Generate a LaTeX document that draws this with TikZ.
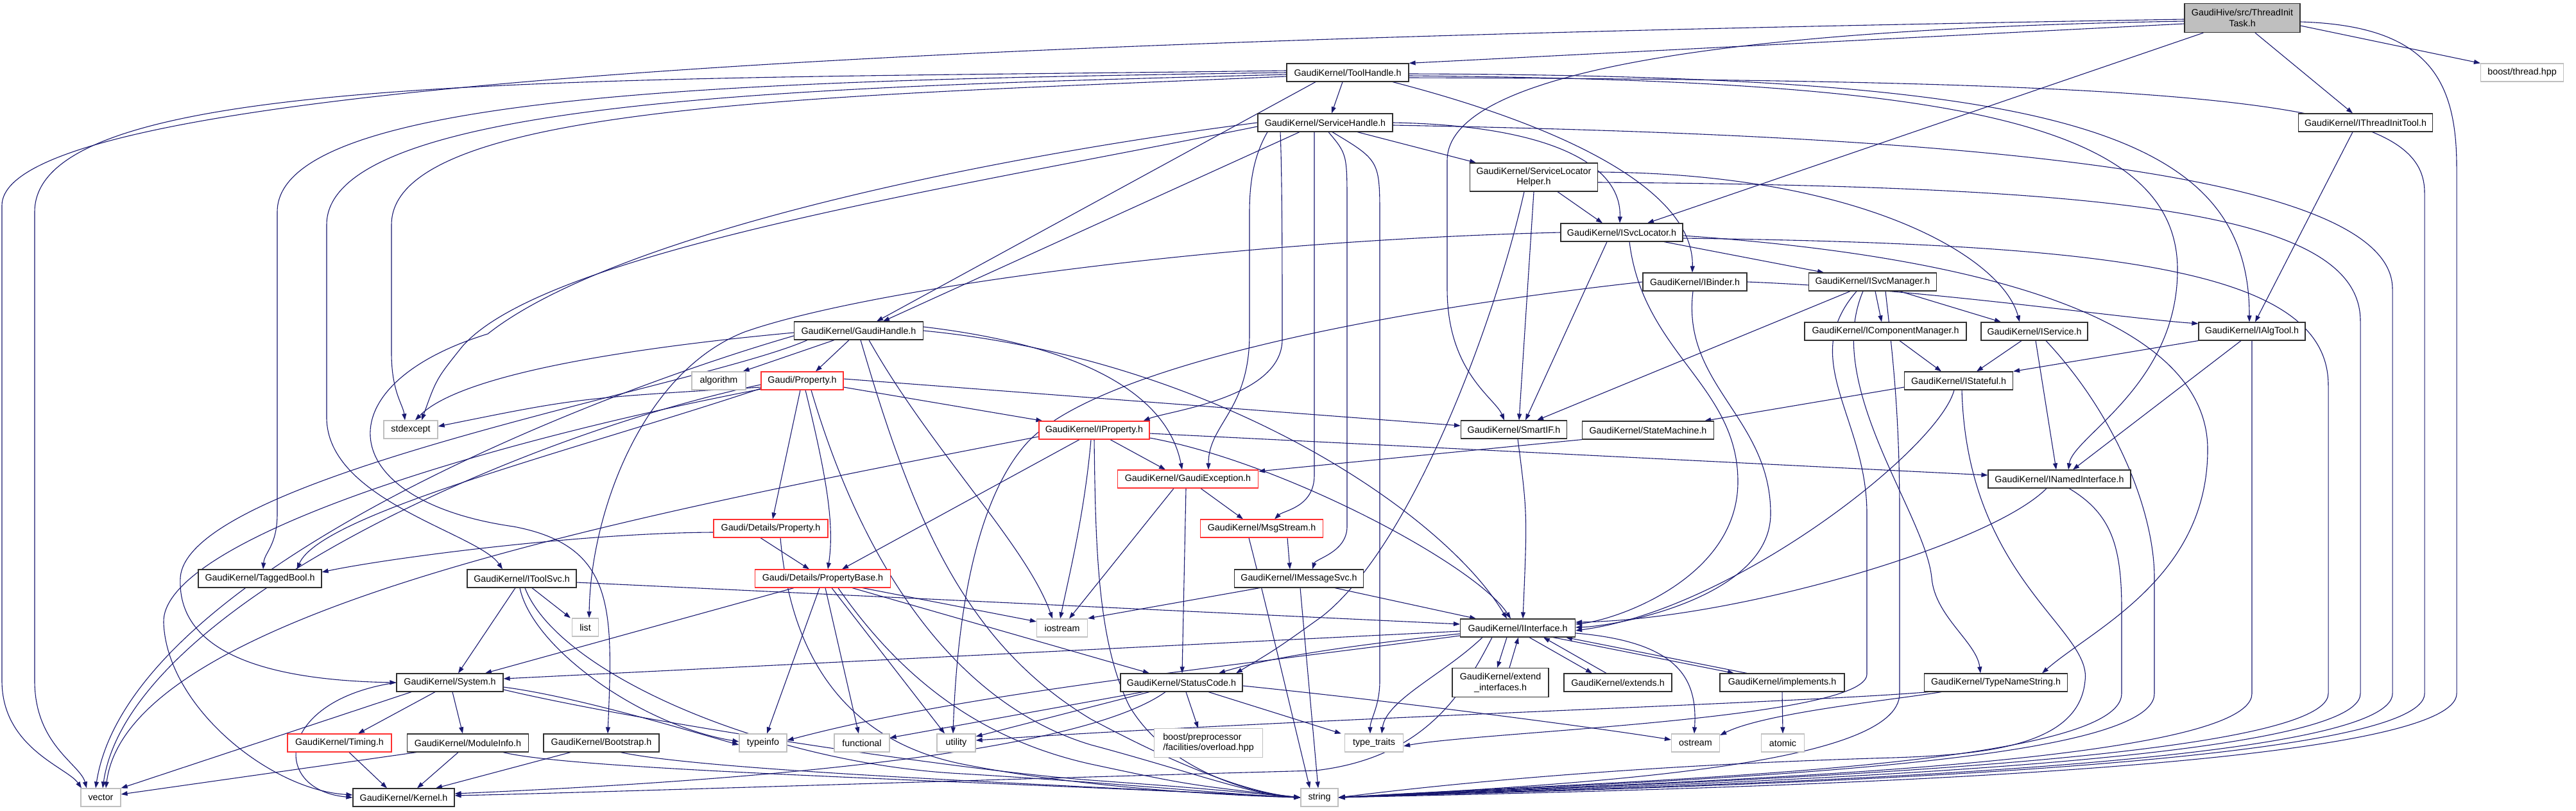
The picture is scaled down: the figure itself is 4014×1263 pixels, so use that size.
\documentclass[tikz,border=0pt]{standalone}
\usepackage{fontspec}
\setmainfont{Liberation Sans}
\usetikzlibrary{arrows.meta}
\definecolor{edgeblue}{HTML}{191970}
\definecolor{extgray}{HTML}{BFBFBF}
\definecolor{truncred}{HTML}{FF3030}
\definecolor{nodeblack}{HTML}{303030}
\definecolor{rootfill}{HTML}{BFBFBF}
\pgfdeclarelayer{edgelayer}
\pgfsetlayers{edgelayer,main}
\begin{document}
\begin{tikzpicture}[x=1pt,y=-1pt,
  basebox/.style={rectangle, line width=1.2pt, fill=white, inner sep=0pt, minimum height=28pt, align=center, font=\fontsize{14.3}{16.5}\selectfont},
  hnode/.style={basebox, draw=nodeblack},
  xnode/.style={basebox, draw=extgray},
  rnode/.style={basebox, draw=truncred},
  dep/.style={draw=edgeblue, line width=1.1pt, -{Triangle[length=10pt,width=7pt]}}]
\useasboundingbox (0,0) rectangle (4014,1263);

\node[hnode, minimum width=180pt, minimum height=45pt, fill=rootfill] (TIT) at (3494,28) {GaudiHive/src/ThreadInit\\Task.h};
\node[xnode, minimum width=129pt] (boost) at (3930,113) {boost/thread.hpp};
\node[hnode, minimum width=209pt] (ITIT) at (3686,191) {GaudiKernel/IThreadInitTool.h};
\node[hnode, minimum width=190pt] (TH) at (2100,113) {GaudiKernel/ToolHandle.h};
\node[hnode, minimum width=210pt] (SH) at (2065,191) {GaudiKernel/ServiceHandle.h};
\node[hnode, minimum width=199pt, minimum height=44pt] (SLH) at (2390,276) {GaudiKernel/ServiceLocator\\Helper.h};
\node[hnode, minimum width=190pt] (ISL) at (2527,362) {GaudiKernel/ISvcLocator.h};
\node[hnode, minimum width=162pt] (IB) at (2641,439) {GaudiKernel/IBinder.h};
\node[hnode, minimum width=199pt] (ISM) at (2918,439) {GaudiKernel/ISvcManager.h};
\node[hnode, minimum width=252pt] (ICM) at (2938,516) {GaudiKernel/IComponentManager.h};
\node[hnode, minimum width=166pt] (IS) at (3170,516) {GaudiKernel/IService.h};
\node[hnode, minimum width=166pt] (IAT) at (3509,516) {GaudiKernel/IAlgTool.h};
\node[hnode, minimum width=169pt] (IST) at (3052,593) {GaudiKernel/IStateful.h};
\node[hnode, minimum width=165pt] (SIF) at (2359,669) {GaudiKernel/SmartIF.h};
\node[hnode, minimum width=205pt] (SM) at (2568,670) {GaudiKernel/StateMachine.h};
\node[hnode, minimum width=222pt] (INI) at (3209,746) {GaudiKernel/INamedInterface.h};
\node[hnode, minimum width=201pt] (GH) at (1338,515) {GaudiKernel/GaudiHandle.h};
\node[xnode, minimum width=84pt] (alg) at (1120,593) {algorithm};
\node[rnode, minimum width=128pt] (GP) at (1250,593) {Gaudi/Property.h};
\node[rnode, minimum width=172pt] (IP) at (1705,670) {GaudiKernel/IProperty.h};
\node[rnode, minimum width=219pt] (GE) at (1851,746) {GaudiKernel/GaudiException.h};
\node[rnode, minimum width=178pt] (GDP) at (1201,823) {Gaudi/Details/Property.h};
\node[rnode, minimum width=191pt] (MS) at (1966,823) {GaudiKernel/MsgStream.h};
\node[xnode, minimum width=84pt] (stdexc) at (640,669) {stdexcept};
\node[hnode, minimum width=192pt] (TB) at (405,901) {GaudiKernel/TaggedBool.h};
\node[hnode, minimum width=170pt] (ITS) at (813,901) {GaudiKernel/IToolSvc.h};
\node[xnode, minimum width=41pt] (lst) at (912,977) {list};
\node[hnode, minimum width=166pt] (Sys) at (701,1063) {GaudiKernel/System.h};
\node[rnode, minimum width=162pt] (Tim) at (529,1157) {GaudiKernel/Timing.h};
\node[hnode, minimum width=189pt] (MI) at (729,1157) {GaudiKernel/ModuleInfo.h};
\node[hnode, minimum width=180pt] (BS) at (937,1157) {GaudiKernel/Bootstrap.h};
\node[xnode, minimum width=62pt] (vec) at (157,1242) {vector};
\node[hnode, minimum width=158pt] (Ker) at (629,1242) {GaudiKernel/Kernel.h};
\node[rnode, minimum width=211pt] (PB) at (1282,901) {Gaudi/Details/PropertyBase.h};
\node[xnode, minimum width=79pt] (ios) at (1655,978) {iostream};
\node[hnode, minimum width=190pt] (SC) at (1841,1063) {GaudiKernel/StatusCode.h};
\node[xnode, minimum width=74pt] (tinfo) at (1189,1157) {typeinfo};
\node[xnode, minimum width=86pt] (func) at (1343,1157) {functional};
\node[xnode, minimum width=60pt] (util) at (1490,1157) {utility};
\node[xnode, minimum width=169pt, minimum height=45pt, align=left] (bpp) at (1883,1157) {boost/preprocessor\\/facilities/overload.hpp};
\node[hnode, minimum width=201pt] (IMS) at (2024,901) {GaudiKernel/IMessageSvc.h};
\node[hnode, minimum width=179pt] (II) at (2365,978) {GaudiKernel/IInterface.h};
\node[hnode, minimum width=150pt, minimum height=45pt] (EI) at (2338,1063) {GaudiKernel/extend\\\_interfaces.h};
\node[hnode, minimum width=168pt] (ext) at (2521,1063) {GaudiKernel/extends.h};
\node[hnode, minimum width=194pt] (impl) at (2777,1063) {GaudiKernel/implements.h};
\node[xnode, minimum width=91pt] (tt) at (2141,1157) {type\_traits};
\node[xnode, minimum width=75pt] (ost) at (2642,1157) {ostream};
\node[xnode, minimum width=67pt] (atom) at (2778,1157) {atomic};
\node[xnode, minimum width=58pt] (str) at (2056,1242) {string};
\node[hnode, minimum width=223pt] (TNS) at (3110,1063) {GaudiKernel/TypeNameString.h};

\begin{pgfonlayer}{edgelayer}
% ThreadInitTask
\draw[dep] ([yshift=-9]TIT.west) -- (TH.north east);
\draw[dep] ([xshift=30]TIT.south west) -- ([xshift=40]ISL.north);
\draw[dep] ([xshift=20]TIT.south) -- ([xshift=-20]ITIT.north);
\draw[dep] ([yshift=-12]TIT.east) -- (boost.north west);
\draw[dep] ([yshift=-5]TIT.west) .. controls (2700,45) and (2255,110) .. (2255,250) -- (2255,450) .. controls (2255,580) and (2330,620) .. ([xshift=-15]SIF.north);
\draw[dep] ([yshift=-2]TIT.west) .. controls (1600,60) and (3,120) .. (3,320) -- (3,1060) .. controls (3,1165) and (105,1195) .. ([xshift=-30]vec.north);
\draw[dep] ([yshift=-6]TIT.east) .. controls (3780,40) and (3828,120) .. (3828,260) -- (3828,1080) .. controls (3828,1210) and (2500,1232) .. (str.east);
% IThreadInitTool
\draw[dep] ([xshift=-20]ITIT.south) -- ([xshift=5]IAT.north);
% ToolHandle
\draw[dep] ([xshift=-50]TH.south) -- ([xshift=28]GH.north);
\draw[dep] ([xshift=-8]TH.south) -- ([xshift=10]SH.north);
\draw[dep] ([xshift=70]TH.south) .. controls (2450,200) and (2640,300) .. ([xshift=-4]IB.north);
\draw[dep] ([yshift=-2]TH.east) .. controls (3200,118) and (3505,200) .. ([xshift=-4]IAT.north);
\draw[dep] ([yshift=-5]TH.east) .. controls (3000,125) and (3393,180) .. (3393,420) .. controls (3393,600) and (3230,680) .. ([xshift=14]INI.north);
\draw[dep] ([yshift=-8]TH.east) .. controls (3500,125) and (3778,160) .. (3778,300) -- (3778,1080) .. controls (3778,1205) and (2500,1228) .. (str.east);
\draw[dep] ([yshift=-3]TH.west) .. controls (1300,135) and (509,150) .. (509,350) -- (509,650) .. controls (509,780) and (745,830) .. ([xshift=-30]ITS.north);
\draw[dep] (TH.west) .. controls (1200,125) and (432,140) .. (432,330) -- (432,800) .. controls (432,850) and (412,860) .. ([xshift=5]TB.north);
\draw[dep] ([yshift=-6]TH.west) .. controls (1300,150) and (610,160) .. (610,350) -- (610,550) .. controls (610,610) and (628,630) .. ([xshift=-9]stdexc.north);
\draw[dep] ([yshift=3]TH.west) .. controls (900,125) and (54,110) .. (54,330) -- (54,1060) .. controls (54,1160) and (125,1190) .. ([xshift=-22]vec.north);
% ServiceHandle
\draw[dep] ([xshift=-40]SH.south) -- ([xshift=38]GH.north);
\draw[dep] ([xshift=50]SH.south) -- ([xshift=-90]SLH.north);
\draw[dep] (SH.east) .. controls (2400,195) and (2527,250) .. ([xshift=-3]ISL.north);
\draw[dep] ([yshift=-4]SH.east) .. controls (3000,210) and (3728,260) .. (3728,450) -- (3728,1080) .. controls (3728,1205) and (2500,1226) .. (str.east);
\draw[dep] ([xshift=-90]SH.south) .. controls (1955,240) and (1947,280) .. (1947,330) -- (1947,520) .. controls (1947,640) and (1883,660) .. ([xshift=32]GE.north);
\draw[dep] ([xshift=-70]SH.south) .. controls (1998,280) and (1998,420) .. (1998,530) .. controls (1996,620) and (1820,640) .. ([xshift=-10]IP.north east);
\draw[dep] ([xshift=-17]SH.south) .. controls (2048,240) .. (2048,300) -- (2048,740) .. controls (2048,790) and (2000,795) .. ([xshift=20]MS.north);
\draw[dep] ([xshift=5]SH.south) .. controls (2099,240) .. (2099,320) -- (2099,820) .. controls (2099,860) and (2050,870) .. ([xshift=21]IMS.north);
\draw[dep] ([xshift=11]SH.south) .. controls (2150,250) .. (2150,340) -- (2150,1060) .. controls (2150,1100) and (2135,1120) .. ([xshift=-6]tt.north);
\draw[dep] (SH.west) .. controls (1500,250) and (950,370) .. (760,520) .. controls (500,600) and (520,780) .. (800,820) .. controls (960,850) and (955,950) .. ([xshift=10]BS.north);
\draw[dep] ([yshift=-6]SH.west) .. controls (1500,290) and (850,390) .. (720,540) .. controls (680,590) .. ([xshift=17]stdexc.north);
% ServiceLocatorHelper
\draw[dep] ([xshift=37]SLH.south) -- ([xshift=-30]ISL.north);
\draw[dep] ([yshift=8]SLH.east) .. controls (2900,270) and (3120,400) .. ([xshift=-23]IS.north);
\draw[dep] (SLH.south) -- ([xshift=8]SIF.north);
\draw[dep] ([xshift=-15]SLH.south) .. controls (2330,500) and (2200,850) .. (2060,960) .. controls (1990,1010) .. ([xshift=85]SC.north);
\draw[dep] ([yshift=-8]SLH.east) .. controls (3300,290) and (3678,330) .. (3678,500) -- (3678,1080) .. controls (3678,1200) and (2500,1224) .. (str.east);
% ISvcLocator
\draw[dep] ([xshift=-23]ISL.south) -- ([xshift=18]SIF.north);
\draw[dep] ([xshift=12]ISL.south) .. controls (2560,550) and (2708,600) .. (2708,750) .. controls (2708,900) and (2520,965) .. ([yshift=6]II.east);
\draw[dep] ([xshift=66]ISL.south) -- ([xshift=-76]ISM.north);
\draw[dep] ([yshift=-5]ISL.east) .. controls (3100,400) and (3440,500) .. (3440,700) .. controls (3440,900) and (3260,980) .. ([xshift=72]TNS.north);
\draw[dep] ([yshift=-9]ISL.east) .. controls (3300,380) and (3628,420) .. (3628,600) -- (3628,1080) .. controls (3628,1195) and (2500,1222) .. (str.east);
\draw[dep] (ISL.west) .. controls (1900,375) and (1350,450) .. (1160,517) .. controls (1000,580) and (920,800) .. ([xshift=6]lst.north);
% IBinder
\draw[dep] (IB.east) .. controls (3000,450) and (3300,495) .. ([yshift=12]IAT.west);
\draw[dep] ([xshift=-3]IB.south) .. controls (2620,600) and (2759,650) .. (2759,800) .. controls (2759,930) and (2520,975) .. ([yshift=1]II.east);
\draw[dep] (IB.west) .. controls (2100,490) and (1700,580) .. (1600,690) .. controls (1510,790) and (1490,1000) .. ([xshift=-5]util.north);
% ISvcManager
\draw[dep] ([xshift=4]ISM.south) -- ([xshift=-6]ICM.north);
\draw[dep] ([xshift=42]ISM.south) -- ([xshift=-52]IS.north);
\draw[dep] ([xshift=-35]ISM.south) -- ([xshift=36]SIF.north);
\draw[dep] ([xshift=-25]ISM.south) .. controls (2800,560) and (2909,650) .. (2909,800) -- (2909,1050) .. controls (2909,1120) and (2300,1140) .. ([yshift=-5]tt.east);
\draw[dep] ([xshift=20]ISM.south) .. controls (2950,560) and (2960,650) .. (2960,800) -- (2960,1080) .. controls (2960,1190) and (2500,1220) .. (str.east);
\draw[dep] ([xshift=-15]ISM.south) .. controls (2840,600) and (3000,800) .. (3010,900) .. controls (3015,960) and (3080,1000) .. ([xshift=-24]TNS.north);
% IComponentManager
\draw[dep] ([xshift=22]ICM.south) -- ([xshift=-27]IST.north);
% IService
\draw[dep] ([xshift=-20]IS.south) -- ([xshift=28]IST.north);
\draw[dep] ([xshift=2]IS.south) -- ([xshift=-5]INI.north);
\draw[dep] ([xshift=18]IS.south) .. controls (3300,650) and (3357,800) .. (3357,900) -- (3357,1080) .. controls (3357,1200) and (2500,1218) .. (str.east);
% IAlgTool
\draw[dep] (IAT.south west) -- (IST.north east);
\draw[dep] ([xshift=-17]IAT.south) -- ([xshift=21]INI.north);
\draw[dep] (IAT.south) -- (3509,1080) .. controls (3509,1200) and (2500,1220) .. (str.east);
% IStateful
\draw[dep] ([xshift=-7]IST.south) .. controls (3020,700) and (2700,950) .. ([yshift=-4]II.east);
\draw[dep] ([xshift=5]IST.south) .. controls (3065,900) and (3260,980) .. (3249,1060) .. controls (3240,1160) and (3100,1175) .. (2950,1180) .. controls (2600,1190) and (2300,1215) .. (str.east);
\draw[dep] ([yshift=-10]IST.west) -- ([xshift=-15]SM.north east);
% StateMachine, SmartIF, INamedInterface
\draw[dep] (SM.south west) -- ([yshift=12]GE.east);
\draw[dep] ([xshift=6]SIF.south) .. controls (2380,800) .. ([xshift=8]II.north);
\draw[dep] ([xshift=-20]INI.south) .. controls (3100,850) and (2700,965) .. ([yshift=9]II.east);
\draw[dep] ([xshift=15]INI.south) .. controls (3290,800) and (3306,850) .. (3306,950) -- (3306,1080) .. controls (3306,1200) and (2500,1216) .. (str.east);
% GaudiHandle
\draw[dep] ([xshift=-38]GH.south) -- ([xshift=-5]alg.north east);
\draw[dep] ([xshift=-15]GH.south) -- ([xshift=21]GP.north);
\draw[dep] ([xshift=16]GH.south) .. controls (1450,700) and (1600,850) .. ([xshift=-15]ios.north);
\draw[dep] ([xshift=3]GH.south) .. controls (1420,800) and (1500,1000) .. (1700,1120) .. controls (1850,1200) and (1950,1235) .. (str.west);
\draw[dep] ([yshift=6]GH.east) .. controls (1700,540) and (1820,620) .. ([xshift=-9]GE.north);
\draw[dep] (GH.east) .. controls (1900,560) and (2250,800) .. ([xshift=-17]II.north);
\draw[dep] ([yshift=-3]GH.west) .. controls (1000,540) and (720,580) .. ([xshift=7]stdexc.north);
\draw[dep] ([yshift=-8]GH.west) .. controls (900,620) and (200,900) .. ([xshift=-8]vec.north);
\draw[dep] ([xshift=-80]GH.south) .. controls (1100,600) and (290,740) .. (281,900) .. controls (275,1030) and (450,1060) .. (Sys.west);
% Gaudi/Property.h
\draw[dep] ([xshift=-3]GP.south) -- ([xshift=3]GDP.north);
\draw[dep] ([xshift=5]GP.south) .. controls (1290,750) and (1300,820) .. ([xshift=8]PB.north);
\draw[dep] ([yshift=-10]GP.east) -- ([xshift=6]IP.north west);
\draw[dep] ([yshift=3]GP.east) -- ([yshift=6]SIF.west);
\draw[dep] ([xshift=14]GP.south) .. controls (1350,900) and (1500,1100) .. (1700,1160) .. controls (1850,1200) and (1950,1238) .. (str.west);
\draw[dep] ([yshift=-10]GP.west) .. controls (900,620) .. ([yshift=5]stdexc.east);
\draw[dep] ([yshift=-12]GP.west) .. controls (900,700) and (500,800) .. ([xshift=-39]TB.north east);
\draw[dep] ([yshift=-6]GP.west) .. controls (800,680) and (200,950) .. ([xshift=3]vec.north);
\draw[dep] ([yshift=-13]GP.west) .. controls (700,700) and (250,850) .. (255,970) .. controls (260,1100) and (420,1230) .. ([yshift=4]Ker.west);
% IProperty
\draw[dep] ([xshift=-23]IP.south) -- ([xshift=30]PB.north);
\draw[dep] ([xshift=25]IP.south) -- ([xshift=-35]GE.north);
\draw[dep] ([yshift=-5]IP.east) -- ([yshift=6]INI.west);
\draw[dep] ([yshift=-12]IP.east) .. controls (2000,720) and (2300,880) .. ([xshift=-11]II.north);
\draw[dep] ([xshift=-5]IP.south) .. controls (1690,800) and (1665,900) .. ([xshift=-3]ios.north);
\draw[dep] (IP.south) .. controls (1707,850) and (1710,1000) .. (1760,1100) .. controls (1820,1200) and (1950,1236) .. (str.west);
\draw[dep] ([yshift=-10]IP.west) .. controls (1000,800) and (200,950) .. ([xshift=8]vec.north);
% GaudiException
\draw[dep] ([xshift=-22]GE.south) -- ([xshift=11]ios.north);
\draw[dep] ([xshift=-3]GE.south) -- ([xshift=1]SC.north);
\draw[dep] ([xshift=20]GE.south) -- ([xshift=-29]MS.north);
% Details/Property
\draw[dep] ([xshift=-16]GDP.south) -- ([xshift=-21]PB.north);
\draw[dep] ([yshift=-6]GDP.west) .. controls (900,830) and (600,870) .. ([yshift=10]TB.east);
\draw[dep] ([xshift=15]GDP.south) .. controls (1230,1000) and (1300,1150) .. (1500,1190) .. controls (1700,1230) and (1950,1240) .. (str.west);
% MsgStream
\draw[dep] ([xshift=40]MS.south) -- ([xshift=-14]IMS.north);
\draw[dep] ([xshift=-20]MS.south) .. controls (1975,950) and (2010,1100) .. ([xshift=-15]str.north);
% IMessageSvc
\draw[dep] ([xshift=-61]IMS.south) -- ([yshift=15]ios.east);
\draw[dep] ([xshift=56]IMS.south) -- ([xshift=-65]II.north);
\draw[dep] ([xshift=2]IMS.south) -- ([xshift=-2]str.north);
% IToolSvc
\draw[dep] ([xshift=-10]ITS.south) -- ([xshift=13]Sys.north);
\draw[dep] ([xshift=16]ITS.south) -- ([xshift=-2]lst.north west);
\draw[dep] ([yshift=-6]ITS.east) -- ([yshift=6]II.west);
\draw[dep] ([xshift=-3]ITS.south) .. controls (830,1010) and (1000,1130) .. ([yshift=2]tinfo.west);
\draw[dep] ([xshift=5]ITS.south) .. controls (870,1050) and (1200,1190) .. (1500,1205) .. controls (1750,1220) and (1950,1240) .. (str.west);
% System
\draw[dep] (Sys.west) .. controls (430,1090) and (420,1230) .. (Ker.west);
\draw[dep] ([xshift=-60]Sys.south) -- (vec.north east);
\draw[dep] ([xshift=-23]Sys.south) -- ([xshift=29]Tim.north);
\draw[dep] ([xshift=4]Sys.south) -- ([xshift=-8]MI.north);
\draw[dep] ([yshift=-7]Sys.east) .. controls (900,1085) and (1080,1140) .. ([yshift=-3]tinfo.west);
\draw[dep] ([yshift=-11]Sys.east) .. controls (1000,1125) and (1500,1200) .. (1700,1215) .. controls (1850,1226) .. (str.west);
% Timing, ModuleInfo, Bootstrap
\draw[dep] ([xshift=15]Tim.south) -- ([xshift=-26]Ker.north);
\draw[dep] ([xshift=-15]MI.south) -- ([xshift=21]Ker.north);
\draw[dep] ([xshift=-80]MI.south) -- ([yshift=5]vec.east);
\draw[dep] ([xshift=55]MI.south) .. controls (900,1200) and (1500,1215) .. (str.west);
\draw[dep] ([xshift=-48]BS.south) -- ([xshift=50]Ker.north);
\draw[dep] ([xshift=30]BS.south) .. controls (1100,1200) and (1600,1220) .. (str.west);
% PropertyBase
\draw[dep] ([xshift=-45]PB.south) -- ([xshift=55]Sys.north);
\draw[dep] ([xshift=-5]PB.south) -- ([xshift=6]tinfo.north);
\draw[dep] ([xshift=4]PB.south) -- ([xshift=-5]func.north);
\draw[dep] ([xshift=14]PB.south) -- ([xshift=-18]util.north);
\draw[dep] ([xshift=24]PB.south) .. controls (1400,1050) and (1520,1150) .. (1700,1190) .. controls (1850,1222) .. (str.west);
\draw[dep] ([xshift=46]PB.south) -- ([xshift=-50]SC.north);
\draw[dep] ([xshift=62]PB.south) -- ([yshift=10]ios.west);
% StatusCode
\draw[dep] ([xshift=-60]SC.south) -- ([yshift=8]func.east);
\draw[dep] ([xshift=-50]SC.south) -- ([yshift=10]util.east);
\draw[dep] ([xshift=-25]SC.south) .. controls (1700,1160) and (1300,1210) .. ([yshift=6]Ker.east);
\draw[dep] ([xshift=7]SC.south) -- ([xshift=-16]bpp.north);
\draw[dep] ([xshift=42]SC.south) -- ([xshift=-5]tt.north west);
\draw[dep] ([yshift=-5]SC.east) .. controls (2200,1095) and (2500,1135) .. ([yshift=5]ost.west);
% IInterface
\draw[dep] ([yshift=-5]II.west) -- ([yshift=6]Sys.east);
\draw[dep] ([yshift=-9]II.west) .. controls (2150,1000) and (1990,1020) .. ([xshift=58]SC.north);
\draw[dep] ([yshift=-12]II.west) .. controls (1900,1040) and (1500,1080) .. ([yshift=4]tinfo.east);
\draw[dep] ([xshift=-55]II.south) .. controls (2250,1050) and (2160,1090) .. ([xshift=12]tt.north);
\draw[dep] ([xshift=-40]II.south) .. controls (2280,1080) and (2220,1180) .. (2050,1200) .. controls (1500,1215) and (900,1235) .. ([yshift=3]Ker.east);
\draw[dep] ([xshift=-17]II.south) -- ([xshift=-5]EI.north);
\draw[dep] ([xshift=14]EI.north) -- ([xshift=1]II.south);
\draw[dep] ([xshift=18]II.south) -- ([xshift=-40]ext.north);
\draw[dep] ([xshift=-18]ext.north) -- ([xshift=40]II.south);
\draw[dep] ([xshift=55]II.south) -- ([xshift=-75]impl.north);
\draw[dep] ([xshift=-55]impl.north) -- ([xshift=75]II.south);
\draw[dep] (impl.south) -- (atom.north);
\draw[dep] ([yshift=-8]II.east) .. controls (2620,1000) and (2645,1060) .. ([xshift=-2]ost.north);
% TypeNameString
\draw[dep] ([xshift=-85]TNS.south) .. controls (2950,1090) and (2750,1110) .. ([yshift=12]ost.east);
\draw[dep] ([xshift=-105]TNS.south) .. controls (2800,1095) and (2000,1120) .. ([yshift=4]util.east);
\end{pgfonlayer}
\end{tikzpicture}
\end{document}
